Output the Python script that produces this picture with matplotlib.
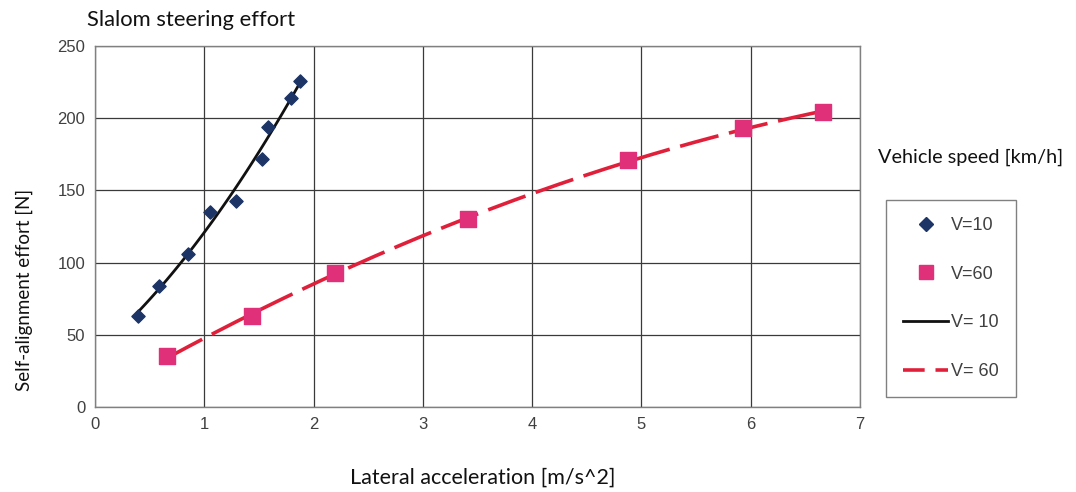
import numpy as np
import matplotlib
matplotlib.use("Agg")
import matplotlib.pyplot as plt
from matplotlib.lines import Line2D

# Data
v10_x = [0.39, 0.59, 0.85, 1.05, 1.29, 1.53, 1.58, 1.79, 1.88]
v10_y = [63, 84, 106, 135, 143, 172, 194, 214, 226]
v60_x = [0.66, 1.44, 2.20, 3.41, 4.88, 5.93, 6.66]
v60_y = [35, 63, 93, 130, 171, 193, 204]
x_ticks = [0, 1, 2, 3, 4, 5, 6, 7]
y_ticks = [0, 50, 100, 150, 200, 250]

fig = plt.figure(figsize=(10.76, 4.92), dpi=100)
ax = fig.add_axes([95/1076, 1-407/492, (860-95)/1076, (407-46)/492])

grid_c = "#3a3a3a"
ax.set_xlim(0, 7)
ax.set_ylim(0, 250)
ax.set_xticks(x_ticks)
ax.set_yticks(y_ticks)
ax.grid(True, color=grid_c, linewidth=0.9)
ax.set_axisbelow(True)
for s in ax.spines.values():
    s.set_color("#808080")
    s.set_linewidth(1.0)
ax.tick_params(length=0, pad=7, labelsize=12, labelcolor="#404040")
for lab in ax.get_xticklabels() + ax.get_yticklabels():
    lab.set_family("Liberation Sans")

# Trend lines (quadratic fits of the data)
c10 = np.polyfit(v10_x, v10_y, 2)
xs10 = np.linspace(min(v10_x), max(v10_x), 100)
ax.plot(xs10, np.polyval(c10, xs10), color="#111111", lw=2.0, zorder=3)
c60 = np.polyfit(v60_x, v60_y, 2)
xs60 = np.linspace(min(v60_x), max(v60_x), 200)
ax.plot(xs60, np.polyval(c60, xs60), color="#e0203a", lw=2.6,
        dashes=(11, 3), zorder=3)

ax.scatter(v10_x, v10_y, marker="D", s=45, color="#1c3466", zorder=4)
ax.scatter(v60_x, v60_y, marker="s", s=140, color="#e0307a", zorder=4)

ax.set_xlabel("Lateral acceleration [m/s^2]", family="Lato", fontsize=15.5,
              color="#111111")
ax.xaxis.set_label_coords((483-95)/765, (407-478)/361)
ax.xaxis.label.set_va("center")
ax.set_ylabel("Self-alignment effort [N]", family="Lato", fontsize=13.5,
              color="#111111")
ax.yaxis.set_label_coords((24-95)/765, (407-290)/361)
ax.yaxis.label.set_va("center")

fig.text(87/1076, 1-20/492, "Slalom steering effort", family="Lato",
         fontsize=15.8, va="center", ha="left", color="#111111")
fig.text(878/1076, 1-157/492, "Vehicle speed [km/h]", family="Lato",
         fontsize=14.3, va="center", ha="left", color="#111111")

handles = [
    Line2D([], [], marker="D", ls="none", color="#1c3466", markersize=7),
    Line2D([], [], marker="s", ls="none", color="#e0307a", markersize=10),
    Line2D([], [], color="#111111", lw=2.0),
    Line2D([], [], color="#e0203a", lw=2.6, dashes=(6, 3)),
]
labels = ["V=10", "V=60", "V= 10", "V= 60"]
leg = fig.legend(handles, labels, loc="upper left",
                 bbox_to_anchor=(886/1076, 1-200/492),
                 frameon=True, fancybox=False, edgecolor="#606060",
                 prop={"family": "Liberation Sans", "size": 13},
                 labelspacing=1.75, handlelength=2.5, borderpad=0.95,
                 handletextpad=0.15, borderaxespad=0)
for t in leg.get_texts():
    t.set_color("#404040")

fig.savefig("out.png", dpi=100)
